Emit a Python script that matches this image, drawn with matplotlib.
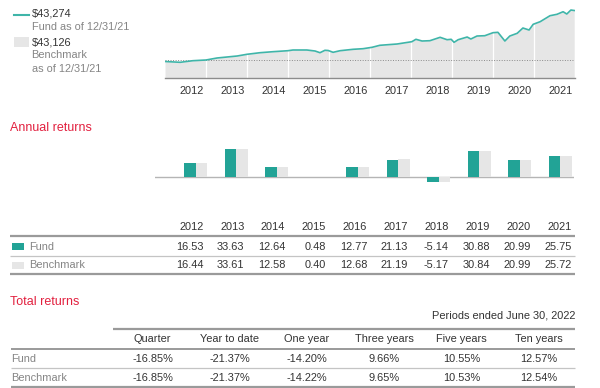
import matplotlib
matplotlib.use("Agg")
import matplotlib.pyplot as plt

plt.rcParams['font.family'] = ['Liberation Sans', 'DejaVu Sans']

# ---------------- data ----------------
years = [2012, 2013, 2014, 2015, 2016, 2017, 2018, 2019, 2020, 2021]
year_labels = [str(y) for y in years]

fund_annual = [16.53, 33.63, 12.64, 0.48, 12.77, 21.13, -5.14, 30.88, 20.99, 25.75]
bench_annual = [16.44, 33.61, 12.58, 0.40, 12.68, 21.19, -5.17, 30.84, 20.99, 25.72]

periods = ["Quarter", "Year to date", "One year", "Three years", "Five years", "Ten years"]
fund_total = [-16.85, -21.37, -14.20, 9.66, 10.55, 12.57]
bench_total = [-16.85, -21.37, -14.22, 9.65, 10.53, 12.54]

# growth of $10,000
growth_t = [2012.00, 2012.37, 2012.68, 2013.00, 2013.27, 2013.76, 2014.00, 2014.32,
            2014.63, 2015.00, 2015.12, 2015.46, 2015.66, 2015.78, 2015.90, 2015.98,
            2016.10, 2016.27, 2016.59, 2016.83, 2017.05, 2017.24, 2017.66, 2018.02,
            2018.12, 2018.27, 2018.46, 2018.71, 2018.88, 2018.98, 2019.05, 2019.15,
            2019.37, 2019.46, 2019.61, 2019.80, 2020.00, 2020.12, 2020.29, 2020.41,
            2020.59, 2020.73, 2020.88, 2020.98, 2021.15, 2021.39, 2021.56, 2021.71,
            2021.80, 2021.90, 2021.98]
fund_growth = [9200, 8660, 9730, 10200, 11540, 12870, 14010, 15080,
               15740, 16410, 16880, 16880, 16210, 15080, 16680, 16550,
               15340, 16410, 17350, 17750, 18680, 20020, 20890, 22420,
               24030, 22890, 23090, 25360, 23760, 24030, 22020, 23760,
               25560, 24230, 26230, 26430, 28440, 28700, 22890, 26230,
               28040, 31580, 30240, 34050, 35790, 39790, 40730, 42460,
               40930, 43600, 43274]
bench_growth = [9200, 8650, 9720, 10180, 11520, 12850, 13990, 15060,
                15720, 16390, 16860, 16860, 16190, 15060, 16660, 16530,
                15320, 16390, 17330, 17730, 18660, 20000, 20870, 22400,
                24010, 22870, 23070, 25330, 23740, 24010, 22000, 23740,
                25540, 24210, 26210, 26410, 28420, 28680, 22870, 26210,
                28020, 31550, 30210, 34010, 35740, 39700, 40620, 42340,
                40810, 43470, 43126]

fund_end = "$43,274"
bench_end = "$43,126"

# ---------------- style ----------------
TEAL = "#22a396"
LINE_TEAL = "#3fb5a9"
LGRAY = "#e6e6e6"
RED = "#e2203f"
DARK = "#333333"
MID = "#858585"

W, H = 600, 388
fig = plt.figure(figsize=(6, 3.88), dpi=100)


def px_axes(l, t, r, b):
    return fig.add_axes([l / W, 1 - b / H, (r - l) / W, (b - t) / H])


ov = fig.add_axes([0, 0, 1, 1])
ov.set_xlim(0, W)
ov.set_ylim(H, 0)
ov.axis('off')

FS = 7.9

# ---------------- growth chart ----------------
GROWTH_YMIN, GROWTH_YMAX = -1627, 47620
ax = px_axes(165, 4, 575, 77.7)
ax.set_xlim(2012, 2022)
ax.set_ylim(GROWTH_YMIN, GROWTH_YMAX)
ax.fill_between(growth_t, bench_growth, GROWTH_YMIN, color=LGRAY, lw=0, zorder=1)
for yr in years[1:]:
    ax.axvline(yr, color='white', lw=0.9, zorder=2)
ax.axhline(10000, color='#8a8a8a', lw=0.7, ls=(0, (1, 1.6)), zorder=3)
ax.plot(growth_t, fund_growth, color=LINE_TEAL, lw=1.2, zorder=4, solid_joinstyle='round')
for s in ['top', 'left', 'right']:
    ax.spines[s].set_visible(False)
ax.spines['bottom'].set_color('#8c8c8c')
ax.spines['bottom'].set_linewidth(1.0)
ax.set_yticks([])
ax.set_xticks([y + 0.95 for y in years])
ax.set_xticklabels(year_labels, fontsize=FS, color=DARK, ha='right')
ax.tick_params(axis='x', length=0, pad=6)
ax.patch.set_alpha(0)

# legend
ov.plot([14, 28.5], [15, 15], color=LINE_TEAL, lw=1.5)
ov.text(31.5, 13.3, fund_end, fontsize=FS, color=DARK, va='center', ha='left')
ov.text(31.5, 27, "Fund as of 12/31/21", fontsize=FS, color=MID, va='center', ha='left')
ov.add_patch(plt.Rectangle((14, 37.3), 14.5, 9.5, color=LGRAY, lw=0))
ov.text(31.5, 42.7, bench_end, fontsize=FS, color=DARK, va='center', ha='left')
ov.text(31.5, 55.5, "Benchmark", fontsize=FS, color=MID, va='center', ha='left')
ov.text(31.5, 69, "as of 12/31/21", fontsize=FS, color=MID, va='center', ha='left')

# ---------------- annual returns bars ----------------
ov.text(10, 128, "Annual returns", fontsize=9, color=RED, va='center', ha='left')
bx = px_axes(155, 140, 574, 190)
bx.set_xlim(-1.007, 9.334)
bx.set_ylim(-15.08, 44.3)
idx = list(range(len(years)))
bw = 0.284
bx.bar([i - bw / 2 for i in idx], fund_annual, width=bw, color=TEAL, lw=0, zorder=2)
bx.bar([i + bw / 2 for i in idx], bench_annual, width=bw, color=LGRAY, lw=0, zorder=2)
bx.axhline(0, color='#b5b5b5', lw=1.0, zorder=1)
bx.axis('off')

# annual table
col_r = [203.5 + 40.9 * i for i in idx]
for i, y in enumerate(year_labels):
    ov.text(col_r[i], 226.7, y, fontsize=FS, color=DARK, ha='right', va='center')
    ov.text(col_r[i], 246.5, f"{fund_annual[i]:.2f}", fontsize=FS, color=DARK, ha='right', va='center')
    ov.text(col_r[i], 265.5, f"{bench_annual[i]:.2f}", fontsize=FS, color=DARK, ha='right', va='center')
ov.plot([10, 575], [235.7, 235.7], color='#9a9a9a', lw=1.6, solid_capstyle='butt')
ov.plot([10, 575], [256, 256], color='#c4c4c4', lw=0.9, solid_capstyle='butt')
ov.plot([10, 575], [274.3, 274.3], color='#9a9a9a', lw=1.6, solid_capstyle='butt')
ov.add_patch(plt.Rectangle((12, 242.5), 12, 7, color=TEAL, lw=0))
ov.add_patch(plt.Rectangle((12, 261.5), 12, 7, color=LGRAY, lw=0))
ov.text(29, 246.5, "Fund", fontsize=FS, color=MID, ha='left', va='center')
ov.text(29, 265.5, "Benchmark", fontsize=FS, color=MID, ha='left', va='center')

# ---------------- total returns table ----------------
ov.text(10, 302, "Total returns", fontsize=9, color=RED, va='center', ha='left')
ov.text(575, 315.7, "Periods ended June 30, 2022", fontsize=FS, color=DARK, ha='right', va='center')
ov.plot([113, 575], [329.3, 329.3], color='#9a9a9a', lw=1.6, solid_capstyle='butt')
col_c = [152.5 + 77.3 * i for i in range(len(periods))]
for i, p in enumerate(periods):
    ov.text(col_c[i], 339.5, p, fontsize=FS, color=DARK, ha='center', va='center')
    ov.text(col_c[i], 359, f"{fund_total[i]:.2f}%", fontsize=FS, color=DARK, ha='center', va='center')
    ov.text(col_c[i], 377.7, f"{bench_total[i]:.2f}%", fontsize=FS, color=DARK, ha='center', va='center')
ov.plot([11, 575], [348.8, 348.8], color='#9a9a9a', lw=1.4, solid_capstyle='butt')
ov.plot([11, 575], [368.3, 368.3], color='#c4c4c4', lw=0.9, solid_capstyle='butt')
ov.plot([11, 575], [387.2, 387.2], color='#9a9a9a', lw=1.6, solid_capstyle='butt')
ov.text(11.5, 359, "Fund", fontsize=FS, color=MID, ha='left', va='center')
ov.text(11.5, 377.7, "Benchmark", fontsize=FS, color=MID, ha='left', va='center')

fig.savefig("out.png", dpi=100)
